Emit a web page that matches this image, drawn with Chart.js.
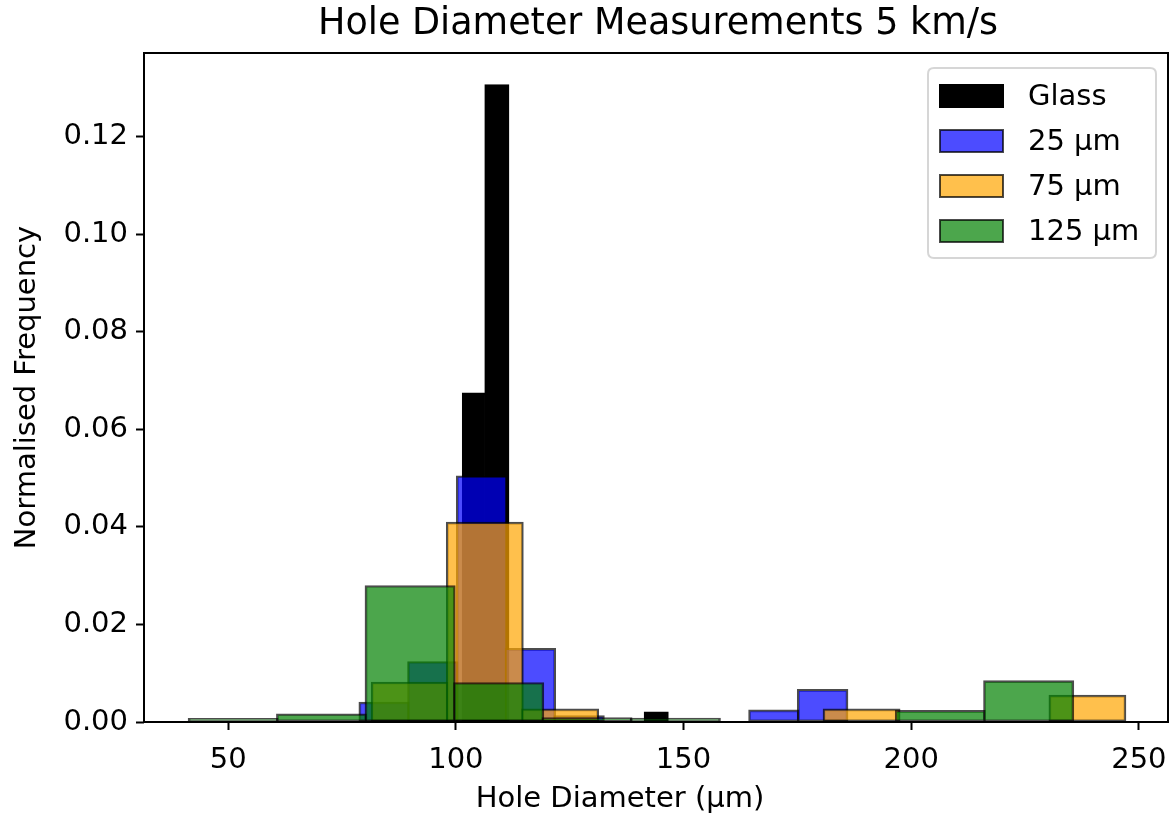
<!DOCTYPE html>
<html>
<head>
<meta charset="utf-8">
<title>Hole Diameter Measurements 5 km/s</title>
<script src="https://cdn.jsdelivr.net/npm/chart.js@4.4.1/dist/chart.umd.min.js"></script>
<style>
  html, body { margin: 0; padding: 0; background: #fff; }
  #wrap { width: 1171px; height: 816px; }
</style>
</head>
<body>
<div id="wrap"><canvas id="holeChart"></canvas></div>
<script>
// bin edges (µm) and normalised frequency per bin for each sample
const glassEdges = [101.6, 106.5, 111.5, 116.5, 121.5, 126.5, 131.5, 136.5, 141.5, 146.5];
const glassHeights = [0.0675, 0.1307, 0, 0, 0, 0, 0, 0, 0.0021];

const edges25 = [78.9, 89.6, 100.3, 111.0, 121.7, 132.4, 143.1, 153.8, 164.5, 175.2, 185.9];
const heights25 = [0.0041, 0.0124, 0.0505, 0.0151, 0.0013, 0, 0, 0, 0.0025, 0.0067];

const edges75 = [81.6, 98.1, 114.6, 131.2, 147.7, 164.3, 180.8, 197.4, 213.9, 230.4, 247.0];
const heights75 = [0.0082, 0.041, 0.0027, 0, 0, 0, 0.0027, 0, 0, 0.0055];

const edges125 = [41.4, 60.8, 80.2, 99.7, 119.1, 138.5, 157.9, 177.3, 196.7, 216.1, 235.5];
const heights125 = [0.00075, 0.0017, 0.028, 0.0081, 0.0009, 0.0008, 0, 0, 0.0024, 0.0085];

const seriesLabels = ["Glass", "25 µm", "75 µm", "125 µm"];
const xTicks = [50, 100, 150, 200, 250];
const yTicks = [0, 0.02, 0.04, 0.06, 0.08, 0.10, 0.12];

const FONT = "'DejaVu Sans', sans-serif";

// turn edges + heights into bar points centred on each bin
function toBins(edges, heights) {
    return heights.map((h, i) => ({ x: (edges[i] + edges[i + 1]) / 2, y: h }));
}

// bar width in pixels = one bin on the x scale (plus the edge line)
function binThickness(ctx) {
    const xs = ctx.chart.scales.x;
    const e = ctx.dataset.edges;
    return Math.abs(xs.getPixelForValue(e[1]) - xs.getPixelForValue(e[0])) + 2;
}

function histDataset(label, edges, heights, fill, edge, order) {
    return {
        label: label,
        data: toBins(edges, heights),
        edges: edges,
        backgroundColor: fill,
        borderColor: edge,
        borderWidth: 2,
        borderSkipped: false,
        grouped: false,
        barPercentage: 1,
        categoryPercentage: 1,
        barThickness: binThickness,
        order: order
    };
}

// frame round the plot (drawn over the bars like the mpl spines)
const spines = {
    id: "spines",
    afterDatasetsDraw(chart) {
        const { ctx, chartArea: a } = chart;
        ctx.save();
        ctx.strokeStyle = "#000";
        ctx.lineWidth = 2;
        ctx.strokeRect(a.left, a.top, a.right - a.left, a.bottom - a.top);
        ctx.restore();
    }
};

// title, x label and the boxed legend in the top right corner
const labels = {
    id: "labels",
    afterDraw(chart) {
        const { ctx, chartArea: a } = chart;
        ctx.save();
        ctx.fillStyle = "#000";
        ctx.textAlign = "center";
        ctx.textBaseline = "middle";
        ctx.font = "36.5px " + FONT;
        ctx.fillText("Hole Diameter Measurements 5 km/s", (a.left + a.right) / 2 + 2, 25);
        ctx.font = "29px " + FONT;
        ctx.fillText("Hole Diameter (µm)", 620, 799);

        // legend frame
        const bx = a.right - 240, by = a.top + 15, bw = 228, bh = 190, r = 6;
        ctx.beginPath();
        ctx.moveTo(bx + r, by);
        ctx.lineTo(bx + bw - r, by);
        ctx.quadraticCurveTo(bx + bw, by, bx + bw, by + r);
        ctx.lineTo(bx + bw, by + bh - r);
        ctx.quadraticCurveTo(bx + bw, by + bh, bx + bw - r, by + bh);
        ctx.lineTo(bx + r, by + bh);
        ctx.quadraticCurveTo(bx, by + bh, bx, by + bh - r);
        ctx.lineTo(bx, by + r);
        ctx.quadraticCurveTo(bx, by, bx + r, by);
        ctx.closePath();
        ctx.fillStyle = "rgba(255,255,255,0.8)";
        ctx.fill();
        ctx.strokeStyle = "rgba(204,204,204,0.8)";
        ctx.lineWidth = 2;
        ctx.stroke();

        ctx.textAlign = "left";
        chart.data.datasets.forEach((ds, i) => {
            const cy = by + 28 + i * 45;
            ctx.fillStyle = ds.backgroundColor;
            ctx.fillRect(bx + 12, cy - 11, 63, 22);
            ctx.strokeStyle = ds.borderColor;
            ctx.lineWidth = 2;
            ctx.strokeRect(bx + 12, cy - 11, 63, 22);
            ctx.fillStyle = "#000";
            ctx.fillText(ds.label, bx + 100, cy + 1);
        });
        ctx.restore();
    }
};

new Chart(document.getElementById("holeChart"), {
    type: "bar",
    data: {
        datasets: [
            histDataset(seriesLabels[0], glassEdges, glassHeights, "#000000", "#000000", 4),
            histDataset(seriesLabels[1], edges25, heights25, "rgba(0,0,255,0.7)", "rgba(0,0,0,0.7)", 3),
            histDataset(seriesLabels[2], edges75, heights75, "rgba(255,165,0,0.7)", "rgba(0,0,0,0.7)", 2),
            histDataset(seriesLabels[3], edges125, heights125, "rgba(0,128,0,0.7)", "rgba(0,0,0,0.7)", 1)
        ]
    },
    options: {
        responsive: true,
        maintainAspectRatio: false,
        animation: false,
        devicePixelRatio: 1,
        layout: { padding: { top: 53, right: 3, left: 0, bottom: 0 } },
        plugins: {
            legend: { display: false },
            tooltip: { enabled: false }
        },
        scales: {
            x: {
                type: "linear",
                min: 31.5,
                max: 256.4,
                offset: false,
                afterFit: s => { s.height = 94; s.paddingLeft = 0; s.paddingRight = 0; },
                afterBuildTicks: s => { s.ticks = xTicks.map(v => ({ value: v })); },
                grid: { display: true, offset: false, drawOnChartArea: false, drawTicks: true, tickLength: 8, tickWidth: 2, tickColor: "#000" },
                border: { display: false },
                ticks: {
                    color: "#000",
                    font: { family: FONT, size: 29 },
                    padding: 13,
                    maxRotation: 0,
                    autoSkip: false,
                    callback: v => v
                }
            },
            y: {
                type: "linear",
                min: 0,
                max: 0.1372,
                afterFit: s => { s.width = 144; s.paddingTop = 0; s.paddingBottom = 0; },
                afterBuildTicks: s => { s.ticks = yTicks.map(v => ({ value: v })); },
                grid: { display: true, offset: false, drawOnChartArea: false, drawTicks: true, tickLength: 8, tickWidth: 2, tickColor: "#000" },
                border: { display: false },
                ticks: {
                    color: "#000",
                    font: { family: FONT, size: 29 },
                    padding: 8,
                    autoSkip: false,
                    callback: v => v.toFixed(2)
                },
                title: {
                    display: true,
                    text: "Normalised Frequency",
                    color: "#000",
                    font: { family: FONT, size: 29 },
                    padding: 10
                }
            }
        }
    },
    plugins: [spines, labels]
});
</script>
</body>
</html>
